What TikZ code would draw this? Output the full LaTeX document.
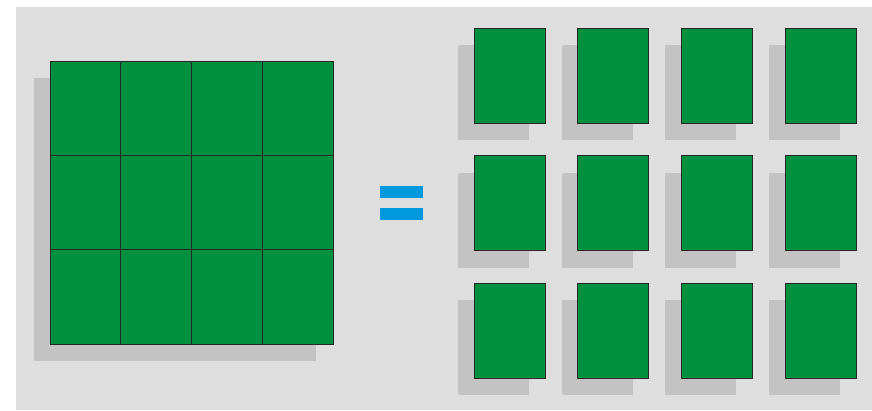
\documentclass[tikz,border=0pt]{standalone}
\usetikzlibrary{calc}
\definecolor{tileBack}{HTML}{DEDEDE}
\definecolor{tileShadow}{HTML}{C3C3C3}
\definecolor{tileGreen}{HTML}{009040}
\definecolor{tileBlue}{HTML}{0099DD}

\begin{document}
\begin{tikzpicture}[
    x=1pt, y=-1pt,
    line width=0.6pt,
    tile/.style={draw=black!85, fill=tileGreen, inner sep=0pt, outer sep=0pt,
      minimum width=71pt, minimum height=95pt, anchor=north west},
    shade/.style={fill=tileShadow},
  ]
  \useasboundingbox (0,0) rectangle (872,410);
  % Background panel
  \fill[tileBack] (16,7) rectangle (872,410);

  % Whole sheet with its shadow
  \fill[shade] (34,78) rectangle (316,361);
  \node[tile, minimum width=283pt, minimum height=283pt] (sheet) at (50,61) {};
  \foreach \c in {1,2,3}
    \draw[black!85] ($(sheet.north west)+(\c*70.75,0)$) -- ($(sheet.south west)+(\c*70.75,0)$);
  \foreach \r in {1,2}
    \draw[black!85] ($(sheet.north west)+(0,\r*94.33)$) -- ($(sheet.north east)+(0,\r*94.33)$);

  % Equals sign
  \fill[tileBlue] (380,186) rectangle (423,198);
  \fill[tileBlue] (380,208) rectangle (423,220);

  % Separate pieces
  \foreach \c in {0,...,3}
    \foreach \r in {0,...,2} {
      \fill[shade] (458+\c*103.7,45+\r*127.5) rectangle ++(71,95);
      \node[tile] (piece-\r-\c) at (474+\c*103.7,28+\r*127.5) {};
    }
\end{tikzpicture}
\end{document}
